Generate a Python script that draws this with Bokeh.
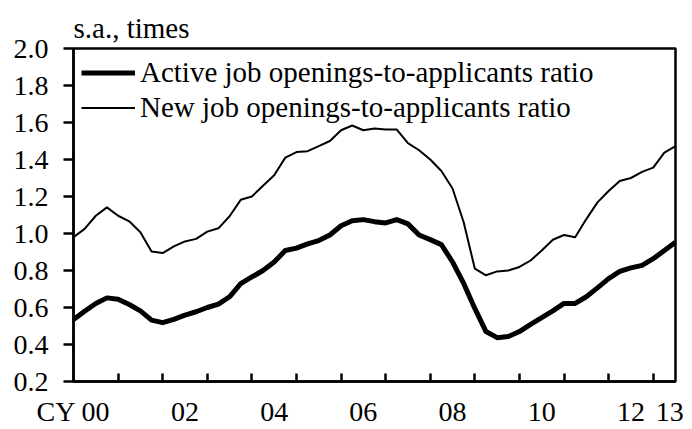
from bokeh.plotting import figure
from bokeh.models import FixedTicker, Range1d, Legend, LegendItem
from bokeh.embed import file_html
from bokeh.resources import INLINE

# quarterly data, 2000Q1 .. 2013Q3
years = [y for y in range(2000, 2014) for _ in range(4)][:55]
quarters = [q for _ in range(2000, 2014) for q in (1, 2, 3, 4)][:55]
active_ratio = [0.535, 0.58, 0.622, 0.652, 0.645, 0.616, 0.582, 0.532, 0.518, 0.536,
                0.559, 0.577, 0.60, 0.618, 0.658, 0.729, 0.765, 0.80, 0.846, 0.908,
                0.921, 0.944, 0.962, 0.992, 1.042, 1.069, 1.075, 1.064, 1.057, 1.075,
                1.052, 0.992, 0.967, 0.94, 0.846, 0.73, 0.595, 0.47, 0.437, 0.443,
                0.47, 0.509, 0.545, 0.582, 0.622, 0.622, 0.658, 0.706, 0.756, 0.795,
                0.814, 0.828, 0.864, 0.908, 0.953]
new_ratio = [0.98, 1.025, 1.096, 1.141, 1.096, 1.066, 1.007, 0.903, 0.894, 0.93,
             0.957, 0.971, 1.01, 1.028, 1.093, 1.182, 1.2, 1.258, 1.315, 1.41,
             1.44, 1.445, 1.472, 1.5, 1.558, 1.584, 1.558, 1.567, 1.562, 1.562,
             1.488, 1.45, 1.40, 1.338, 1.243, 1.061, 0.81, 0.774, 0.795, 0.80,
             0.819, 0.854, 0.908, 0.966, 0.992, 0.98, 1.078, 1.168, 1.23, 1.284,
             1.30, 1.333, 1.356, 1.437, 1.472]
series_names = ["Active job openings-to-applicants ratio",
                "New job openings-to-applicants ratio"]
y_ticks = [0.2, 0.4, 0.6, 0.8, 1.0, 1.2, 1.4, 1.6, 1.8, 2.0]
y_tick_labels = ["0.2", "0.4", "0.6", "0.8", "1.0", "1.2", "1.4", "1.6", "1.8", "2.0"]
x_year_marks = list(range(2001, 2014))
x_label_pos = [2000.0, 2002.5, 2004.5, 2006.5, 2008.5, 2010.5, 2012.5, 2013.37]
x_labels = ["CY 00", "02", "04", "06", "08", "10", "12", "13"]
unit_text = "s.a., times"

x = [y + (q - 1) / 4 for y, q in zip(years, quarters)]

FONT = "Liberation Serif"
FS = "28px"
FS_TXT = "29px"

p = figure(width=692, height=429, output_backend="svg", toolbar_location=None,
           x_range=Range1d(2000, 2013.5), y_range=Range1d(0.2, 2.0),
           min_border_left=73, min_border_right=17, min_border_top=48,
           min_border_bottom=46, title=unit_text)
p.background_fill_color = "white"
p.border_fill_color = "white"
p.outline_line_color = "black"
p.outline_line_width = 2.5
p.xgrid.visible = False
p.ygrid.visible = False

p.title.text_font = FONT
p.title.text_font_size = FS_TXT
p.title.text_font_style = "normal"
p.title.text_color = "black"
p.title.align = "left"
p.title.offset = 0
p.title.standoff = 9

r1 = p.line(x, active_ratio, line_color="black", line_width=5, line_join="round")
r2 = p.line(x, new_ratio, line_color="black", line_width=2, line_join="round")

# y axis
ya = p.yaxis[0]
ya.ticker = FixedTicker(ticks=y_ticks)
ya.major_label_overrides = {t: l for t, l in zip(y_ticks, y_tick_labels)}
ya.major_label_text_font = FONT
ya.major_label_text_font_size = FS
ya.major_label_text_color = "black"
ya.major_tick_out = 10
ya.major_tick_in = 0
ya.major_tick_line_width = 2.5
ya.minor_tick_line_color = None
ya.axis_line_width = 2.5
ya.major_label_standoff = 15

# x axis: year-boundary ticks pointing inward, labels centred on years
xa = p.xaxis[0]
xa.ticker = FixedTicker(ticks=x_label_pos, minor_ticks=x_year_marks)
xa.major_label_overrides = {t: l for t, l in zip(x_label_pos, x_labels)}
xa.minor_tick_in = 8
xa.minor_tick_out = 0
xa.minor_tick_line_width = 2.5
xa.major_tick_line_color = None
xa.major_tick_in = 0
xa.major_tick_out = 0
xa.axis_line_width = 2.5
xa.major_label_text_font = FONT
xa.major_label_text_font_size = FS
xa.major_label_text_color = "black"
xa.major_label_standoff = 14

legend = Legend(items=[LegendItem(label=series_names[0], renderers=[r1]),
                       LegendItem(label=series_names[1], renderers=[r2])],
                location="top_left")
legend.margin = 8
legend.padding = 8
legend.spacing = 2
legend.glyph_width = 54
legend.glyph_height = 33
legend.label_height = 33
legend.label_standoff = 5
legend.label_text_font = FONT
legend.label_text_font_size = FS_TXT
legend.label_text_color = "black"
legend.border_line_color = None
legend.background_fill_alpha = 0
p.add_layout(legend)

open("out.html", "w").write(file_html(p, INLINE))
